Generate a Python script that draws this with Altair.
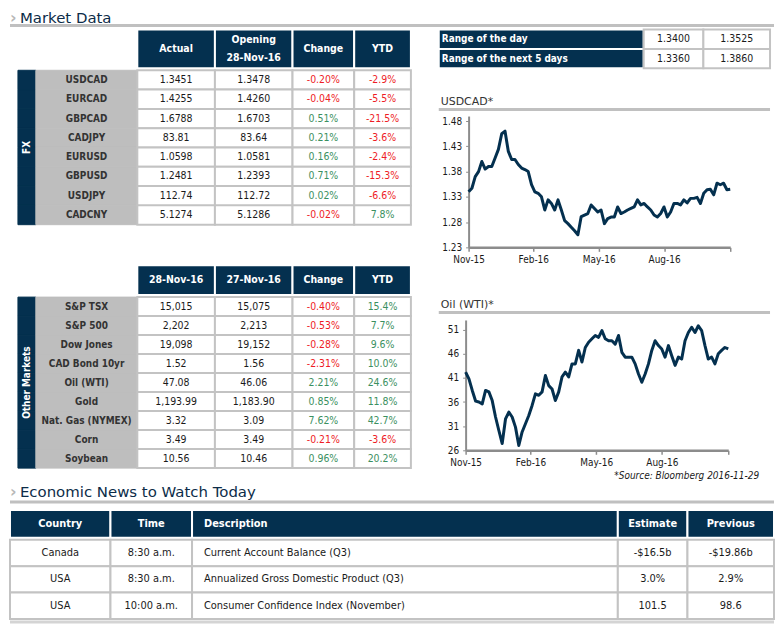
import altair as alt
import pandas as pd

# ---------------- colours / fonts ----------------
NAVY = "#04304f"
TITLE_NAVY = "#0c2c48"
CELL_BORDER = "#c3c3c3"
LABEL_FILL = "#bebebe"
RED = "#ee1c25"
GREEN = "#3a9060"
DARK = "#1a1a1a"
LABEL_TXT = "#333333"
RULE_GRAY = "#c0c0c0"
AXIS_GRAY = "#8c8c8c"
FONT = "DejaVu Sans Condensed, DejaVu Sans, sans-serif"
TITLE_FONT = "DejaVu Sans, sans-serif"

# ---------------- data ----------------
fx_pairs = ["USDCAD", "EURCAD", "GBPCAD", "CADJPY", "EURUSD", "GBPUSD", "USDJPY", "CADCNY"]
fx_actual = ["1.3451", "1.4255", "1.6788", "83.81", "1.0598", "1.2481", "112.74", "5.1274"]
fx_opening = ["1.3478", "1.4260", "1.6703", "83.64", "1.0581", "1.2393", "112.72", "5.1286"]
fx_change = ["-0.20%", "-0.04%", "0.51%", "0.21%", "0.16%", "0.71%", "0.02%", "-0.02%"]
fx_ytd = ["-2.9%", "-5.5%", "-21.5%", "-3.6%", "-2.4%", "-15.3%", "-6.6%", "7.8%"]
fx_headers = ["Actual", "Opening\n28-Nov-16", "Change", "YTD"]

om_names = ["S&P TSX", "S&P 500", "Dow Jones", "CAD Bond 10yr", "Oil (WTI)", "Gold",
            "Nat. Gas (NYMEX)", "Corn", "Soybean"]
om_current = ["15,015", "2,202", "19,098", "1.52", "47.08", "1,193.99", "3.32", "3.49", "10.56"]
om_previous = ["15,075", "2,213", "19,152", "1.56", "46.06", "1,183.90", "3.09", "3.49", "10.46"]
om_change = ["-0.40%", "-0.53%", "-0.28%", "-2.31%", "2.21%", "0.85%", "7.62%", "-0.21%", "0.96%"]
om_ytd = ["15.4%", "7.7%", "9.6%", "10.0%", "24.6%", "11.8%", "42.7%", "-3.6%", "20.2%"]
om_headers = ["28-Nov-16", "27-Nov-16", "Change", "YTD"]

range_labels = ["Range of the day", "Range of the next 5 days"]
range_low = ["1.3400", "1.3360"]
range_high = ["1.3525", "1.3860"]

news_headers = ["Country", "Time", "Description", "Estimate", "Previous"]
news_country = ["Canada", "USA", "USA"]
news_time = ["8:30 a.m.", "8:30 a.m.", "10:00 a.m."]
news_desc = ["Current Account Balance (Q3)", "Annualized Gross Domestic Product (Q3)",
             "Consumer Confidence Index (November)"]
news_est = ["-$16.5b", "3.0%", "101.5"]
news_prev = ["-$19.86b", "2.9%", "98.6"]

chart_dates = pd.date_range("2015-11-30", "2016-11-28", periods=80)
usdcad = [1.340, 1.347, 1.370, 1.380, 1.400, 1.385, 1.390, 1.390, 1.407, 1.424,
          1.455, 1.460, 1.420, 1.404, 1.404, 1.394, 1.387, 1.384, 1.380, 1.354,
          1.340, 1.337, 1.330, 1.304, 1.324, 1.317, 1.304, 1.324, 1.304, 1.283,
          1.277, 1.270, 1.263, 1.255, 1.291, 1.294, 1.297, 1.314, 1.307, 1.300,
          1.304, 1.277, 1.287, 1.290, 1.290, 1.310, 1.297, 1.300, 1.304, 1.307,
          1.310, 1.324, 1.314, 1.317, 1.310, 1.304, 1.294, 1.290, 1.297, 1.310,
          1.290, 1.300, 1.317, 1.317, 1.314, 1.324, 1.318, 1.327, 1.327, 1.329,
          1.317, 1.337, 1.344, 1.345, 1.334, 1.357, 1.354, 1.357, 1.344, 1.345]
oil_wti = [42.2, 40.8, 38.4, 36.2, 36.0, 35.6, 38.4, 38.1, 36.3, 32.9,
           30.1, 27.4, 32.5, 33.9, 32.9, 30.8, 27.0, 29.8, 31.5, 33.2,
           35.3, 37.7, 37.4, 38.1, 41.5, 39.4, 38.7, 36.3, 38.1, 41.2,
           42.2, 41.2, 43.9, 43.9, 46.7, 44.3, 47.3, 48.4, 49.1, 49.8,
           49.4, 50.8, 49.1, 48.7, 48.7, 48.0, 49.8, 46.3, 45.3, 45.3,
           45.3, 43.9, 41.8, 40.1, 41.8, 43.9, 46.7, 48.7, 47.7, 47.0,
           45.3, 47.7, 45.6, 43.6, 45.3, 44.9, 48.7, 50.4, 51.5, 50.4,
           51.8, 50.8, 47.7, 44.9, 45.3, 43.9, 46.0, 46.7, 47.3, 47.0]
usd_ticks = [1.23, 1.28, 1.33, 1.38, 1.43, 1.48]
oil_ticks = [26, 31, 36, 41, 46, 51]
x_ticks = [alt.DateTime(year=2015, month=11, date=30), alt.DateTime(year=2016, month=2, date=28),
           alt.DateTime(year=2016, month=5, date=29), alt.DateTime(year=2016, month=8, date=28),
           alt.DateTime(year=2016, month=11, date=28)]
x_domain = [alt.DateTime(year=2015, month=11, date=30), alt.DateTime(year=2016, month=11, date=28)]


# ---------------- helpers ----------------
def blank(width, height):
    return alt.Chart(pd.DataFrame({"a": [0]})).mark_rect(opacity=0).encode(
        x=alt.value(0), x2=alt.value(width), y=alt.value(0), y2=alt.value(height)
    ).properties(width=width, height=height)


def cells(rows, texts, colors, width, row_h, fill, stroke, sw=2.0, size=10.5, weight="normal",
          align="center", dx=0, font=FONT, key="c", line_h=14):
    df = pd.DataFrame({"r": rows, "t": texts, "tc": colors, "k": [key] * len(rows)})
    n_lines = max(t.count("\n") + 1 for t in texts)
    xs = alt.Scale(type="band", domain=[key], paddingInner=0, paddingOuter=0)
    ys = alt.Scale(type="band", domain=list(rows), paddingInner=0, paddingOuter=0)
    y_enc = alt.Y("r:N", scale=ys, axis=None)
    rect = alt.Chart(df).mark_rect(fill=fill, stroke=stroke, strokeWidth=sw).encode(
        x=alt.X("k:N", scale=xs, axis=None), y=y_enc)
    txt = alt.Chart(df).mark_text(font=font, fontSize=size, fontWeight=weight, align=align,
                                  baseline="middle", dx=dx, dy=-(n_lines - 1) * line_h / 2,
                                  lineBreak="\n", lineHeight=line_h).encode(
        x=alt.X("k:N", scale=xs, axis=None, bandPosition=0 if align == "left" else 0.5),
        y=y_enc, text="t:N", color=alt.Color("tc:N", scale=None))
    return alt.layer(rect, txt).properties(width=width, height=row_h * len(rows))


def side_bar(rows, label, width, row_h, mid_row, band_pos, key):
    df = pd.DataFrame({"r": rows, "k": [key] * len(rows)})
    lab = pd.DataFrame({"r": [mid_row], "t": [label], "k": [key]})
    xs = alt.Scale(type="band", domain=[key], paddingInner=0, paddingOuter=0)
    ys = alt.Scale(type="band", domain=list(rows), paddingInner=0, paddingOuter=0)
    rect = alt.Chart(df).mark_rect(fill=NAVY, stroke=NAVY, strokeWidth=1).encode(
        x=alt.X("k:N", scale=xs, axis=None), y=alt.Y("r:N", scale=ys, axis=None))
    txt = alt.Chart(lab).mark_text(angle=270, color="white", fontWeight="bold", fontSize=10,
                                   font=FONT, baseline="middle", align="center").encode(
        x=alt.X("k:N", scale=xs, axis=None),
        y=alt.Y("r:N", scale=ys, axis=None, bandPosition=band_pos), text="t:N")
    return alt.layer(rect, txt).properties(width=width, height=row_h * len(rows))


def sign_colors(vals):
    return [RED if v.startswith("-") else GREEN for v in vals]


def market_table(tag, side_label, names, columns, headers, header_h, row_h, widths, mid_row, band_pos):
    hdr = [blank(widths[0] + widths[1], header_h)]
    for i, (h, w) in enumerate(zip(headers, widths[2:])):
        hdr.append(cells(["h"], [h], ["white"], w, header_h, NAVY, "white", sw=2, size=10.5,
                         weight="bold", key=f"{tag}h{i}", line_h=18))
    body = [side_bar(names, side_label, widths[0], row_h, mid_row, band_pos, f"{tag}bar"),
            cells(names, names, [LABEL_TXT] * len(names), widths[1], row_h, LABEL_FILL, LABEL_FILL,
                  sw=1, size=10, weight="bold", key=f"{tag}lab")]
    for i, (vals, w) in enumerate(zip(columns, widths[2:])):
        cols = [DARK] * len(vals) if i < 2 else sign_colors(vals)
        body.append(cells(names, vals, cols, w, row_h, "white", CELL_BORDER, key=f"{tag}v{i}"))
    return alt.vconcat(alt.hconcat(*hdr, spacing=0, bounds="flush"),
                       alt.hconcat(*body, spacing=0, bounds="flush"),
                       spacing=0, bounds="full")


def line_chart(values, ydomain, yticks, yfmt, width, height, extent):
    df = pd.DataFrame({"d": chart_dates, "v": values})
    x_axis = alt.Axis(values=x_ticks, format="%b-%y", labelExpr="datum.index < 1 ? datum.label : ''",
                      title=None, grid=False, domainColor=AXIS_GRAY, domainWidth=2.5,
                      tickColor=AXIS_GRAY, tickWidth=1.5, tickSize=4, labelFont=FONT,
                      labelFontSize=10, labelColor=DARK, labelPadding=3, labelFlush=False,
                      labelOverlap=False)
    y_axis = alt.Axis(values=yticks, format=yfmt, title=None, grid=False, domainColor=AXIS_GRAY,
                      domainWidth=2, tickColor=AXIS_GRAY, tickSize=3, labelFont=FONT,
                      labelFontSize=10, labelColor=DARK, labelPadding=4,
                      minExtent=extent, maxExtent=extent)
    line = alt.Chart(df).mark_line(color=NAVY, strokeWidth=3, strokeJoin="round").encode(
        x=alt.X("d:T", scale=alt.Scale(domain=x_domain), axis=x_axis),
        y=alt.Y("v:Q", scale=alt.Scale(domain=ydomain, nice=False, zero=False), axis=y_axis),
    ).properties(width=width, height=height)
    # a 1px spacer on the left keeps the axis labels inside the panel
    return alt.hconcat(blank(1, 1), line, spacing=0)


def panel_title(text, width, height):
    df = pd.DataFrame({"t": [text]})
    t = alt.Chart(df).mark_text(align="left", baseline="middle", font=TITLE_FONT, fontSize=11,
                                color="#333333").encode(x=alt.value(2), y=alt.value(7), text="t:N")
    r = alt.Chart(df).mark_rule(color=RULE_GRAY, strokeWidth=3).encode(
        x=alt.value(0), x2=alt.value(width), y=alt.value(height - 1.5))
    return alt.layer(t, r).properties(width=width, height=height)


def section_header(text, width, height, text_y, rule_y):
    df = pd.DataFrame({"t": [text]})
    chev = alt.Chart(df).mark_text(text="\u203a", font=TITLE_FONT, fontSize=16, fontWeight="bold",
                                   color="#b8b8b8", align="left", baseline="middle").encode(
        x=alt.value(0), y=alt.value(text_y))
    title = alt.Chart(df).mark_text(align="left", baseline="middle", font=TITLE_FONT, fontSize=15,
                                    color=TITLE_NAVY).encode(x=alt.value(10), y=alt.value(text_y),
                                                             text="t:N")
    rule = alt.Chart(df).mark_rule(color=RULE_GRAY, strokeWidth=3).encode(
        x=alt.value(0), x2=alt.value(width), y=alt.value(rule_y))
    return alt.layer(chev, title, rule).properties(width=width, height=height)


def vstack(items, gaps):
    out = items[-1]
    for item, gap in zip(reversed(items[:-1]), reversed(gaps)):
        out = alt.concat(item, out, columns=1, spacing=gap, align="none", bounds="full")
    return out


# ---------------- build ----------------
W = [18, 102, 78, 78, 62, 57]
fx_tbl = market_table("fx", "FX", fx_pairs, [fx_actual, fx_opening, fx_change, fx_ytd], fx_headers,
                      39, 19.4, W, "EURUSD", 0)
om_tbl = market_table("om", "Other Markets", om_names, [om_current, om_previous, om_change, om_ytd],
                      om_headers, 30, 19.1, W, "Oil (WTI)", 0.5)
left_col = vstack([fx_tbl, om_tbl], [38])

range_tbl = alt.hconcat(
    cells(range_labels, range_labels, ["white"] * 2, 206, 19.5, NAVY, "white", sw=2, size=10,
          weight="bold", align="left", dx=3, key="rl"),
    cells(range_labels, range_low, [DARK] * 2, 60, 19.5, "white", CELL_BORDER, key="rlo"),
    cells(range_labels, range_high, [DARK] * 2, 67, 19.5, "white", CELL_BORDER, key="rhi"),
    spacing=0, bounds="flush")

usd_chart = line_chart(usdcad, [1.23, 1.49], usd_ticks, ".2f", 263, 132, 29)
oil_chart = line_chart(oil_wti, [26, 53], oil_ticks, "d", 264, 131, 26)
source = alt.Chart(pd.DataFrame({"t": ["*Source: Bloomberg  2016-11-29"]})).mark_text(
    align="right", baseline="middle", fontStyle="italic", fontSize=10, font=FONT, color=DARK).encode(
    x=alt.value(322), y=alt.value(6), text="t:N").properties(width=333, height=12)

right_col = vstack([range_tbl, panel_title("USDCAD*", 333, 16), usd_chart,
                    panel_title("Oil (WTI)*", 333, 16), oil_chart, source],
                   [26, 5, 34, 6, 3])

body = alt.hconcat(blank(1, 1), alt.hconcat(left_col, right_col, spacing=25), spacing=6)

NW = [101, 82, 428, 70, 87]
news_ids = ["n0", "n1", "n2"]
news_cols = [news_country, news_time, news_desc, news_est, news_prev]
news_hdr = []
news_body = []
for i, (h, w, vals) in enumerate(zip(news_headers, NW, news_cols)):
    al = "left" if h == "Description" else "center"
    d = 12 if h == "Description" else 0
    news_hdr.append(cells(["h"], [h], ["white"], w, 28, NAVY, "white", sw=2, size=11,
                          weight="bold", align=al, dx=d, key=f"nh{i}"))
    news_body.append(cells(news_ids, vals, [DARK] * 3, w, 26.5, "white", CELL_BORDER, size=11,
                           align=al, dx=d, key=f"nb{i}"))
news_tbl = alt.vconcat(alt.hconcat(*news_hdr, spacing=0, bounds="flush"),
                       alt.hconcat(*news_body, spacing=0, bounds="flush"),
                       spacing=0, bounds="full")

strip = alt.Chart(pd.DataFrame({"a": [0]})).mark_rule(color="#d4d4d4", strokeWidth=3).encode(
    x=alt.value(0), x2=alt.value(768), y=alt.value(1.5)).properties(width=768, height=3)

chart = alt.concat(
    section_header("Market Data", 768, 19, 8, 16),
    body,
    section_header("Economic News to Watch Today", 768, 27, 10, 20),
    news_tbl,
    strip,
    columns=1, spacing=0, align="none", bounds="full",
).properties(padding=0, background="white").configure_view(strokeWidth=0)

chart.save("out.html", embed_options={"renderer": "svg", "actions": False})
